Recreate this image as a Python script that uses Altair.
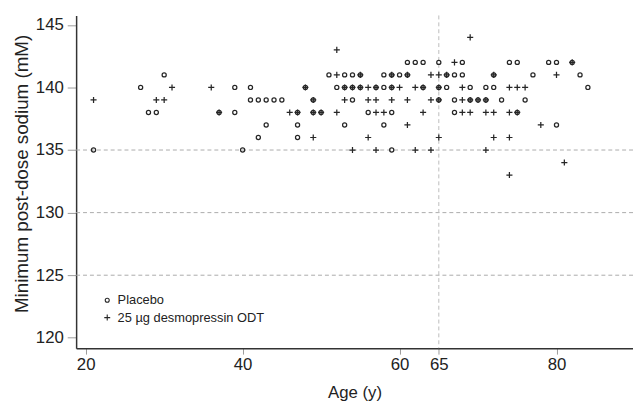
import altair as alt
import pandas as pd

# ---- data (age in years, minimum post-dose sodium in mM) ----
groups = ["Placebo", "25 µg desmopressin ODT"]

placebo_142 = [61, 62, 63, 65, 68, 74, 75, 79, 80, 82]
placebo_141 = [30, 51, 53, 54, 55, 58, 59, 60, 61, 66, 67, 68, 72, 77, 83]
placebo_140 = [27, 39, 41, 48, 52, 53, 54, 55, 57, 58, 59, 63, 65, 66, 69, 71, 72, 84]
placebo_139 = [41, 42, 43, 44, 45, 49, 54, 65, 67, 69, 70, 71, 73, 76]
placebo_138 = [28, 29, 37, 39, 47, 49, 50, 56, 59, 67, 75]
placebo_137 = [43, 47, 53, 58, 80]
placebo_136 = [42, 47]
placebo_135 = [21, 40, 59]

desmo_144 = [69]
desmo_143 = [52]
desmo_142 = [67, 82]
desmo_141 = [52, 55, 59, 61, 64, 65, 66, 72, 80]
desmo_140 = [31, 36, 48, 53, 54, 55, 56, 57, 59, 60, 62, 63, 65, 68, 74, 75, 76]
desmo_139 = [21, 29, 30, 49, 53, 56, 57, 59, 61, 64, 65, 68, 69, 70, 71]
desmo_138 = [37, 46, 47, 49, 50, 52, 57, 58, 63, 68, 69, 71, 72, 74, 75]
desmo_137 = [61, 78]
desmo_136 = [49, 56, 65, 72, 74]
desmo_135 = [54, 57, 62, 64, 71]
desmo_134 = [81]
desmo_133 = [74]

placebo_rows = [(142, placebo_142), (141, placebo_141), (140, placebo_140), (139, placebo_139),
                (138, placebo_138), (137, placebo_137), (136, placebo_136), (135, placebo_135)]
desmo_rows = [(144, desmo_144), (143, desmo_143), (142, desmo_142), (141, desmo_141),
              (140, desmo_140), (139, desmo_139), (138, desmo_138), (137, desmo_137),
              (136, desmo_136), (135, desmo_135), (134, desmo_134), (133, desmo_133)]

x_ticks = [20, 40, 60, 65, 80]
y_ticks = [120, 125, 130, 135, 140, 145]
grid_values = [125, 130, 135]
ref_age = [65]

records = []
for na, ages in placebo_rows:
    for a in ages:
        records.append({"age": a, "sodium": na, "group": groups[0]})
for na, ages in desmo_rows:
    for a in ages:
        records.append({"age": a, "sodium": na, "group": groups[1]})
df = pd.DataFrame(records)

FONT = "Liberation Sans"
INK = "#262626"
PLUS = "M-1,0H1M0,-1V1"
RING = "M0.68,0A0.68,0.68 0 1,1 -0.68,0A0.68,0.68 0 1,1 0.68,0Z"

xscale = alt.Scale(domain=[18.78, 89.75], nice=False, zero=False)
yscale = alt.Scale(domain=[119.17, 145.75], nice=False, zero=False)

grid = alt.Chart(pd.DataFrame({"sodium": grid_values})).mark_rule(
    color="#ababab", strokeWidth=1, strokeDash=[4, 3]
).encode(y=alt.Y("sodium:Q", scale=yscale))

vline = alt.Chart(pd.DataFrame({"age": ref_age})).mark_rule(
    color="#bdbdbd", strokeWidth=1, strokeDash=[4, 3]
).encode(x=alt.X("age:Q", scale=xscale))

points = alt.Chart(df).mark_point(filled=False, color=INK, strokeWidth=1.25, opacity=1, size=38).encode(
    x=alt.X("age:Q", scale=xscale,
            axis=alt.Axis(values=x_ticks, title="Age (y)", grid=False,
                          domainColor="#333333", domainWidth=1.5,
                          tickColor="#9a9a9a", tickSize=6, tickWidth=1,
                          labelFont=FONT, labelFontSize=17, labelColor="#222222",
                          labelPadding=3, labelFlush=False,
                          titleFont=FONT, titleFontSize=17, titleFontWeight="normal",
                          titleColor="#222222", titleY=45, titleBaseline="middle")),
    y=alt.Y("sodium:Q", scale=yscale,
            axis=alt.Axis(values=y_ticks, title="Minimum post-dose sodium (mM)", grid=False,
                          domainColor="#333333", domainWidth=1.5,
                          tickColor="#9a9a9a", tickSize=9, tickWidth=1,
                          labelFont=FONT, labelFontSize=17, labelColor="#222222",
                          labelPadding=4, labelFlush=False,
                          titleFont=FONT, titleFontSize=19, titleFontWeight="normal",
                          titleColor="#222222", titleX=-55, titleY=160,
                          titleBaseline="middle", titleAlign="center")),
    shape=alt.Shape("group:N", scale=alt.Scale(domain=groups, range=[RING, PLUS]),
                    legend=alt.Legend(title=None, orient="none", legendX=25, legendY=282,
                                      labelFont=FONT, labelFontSize=13, labelColor="#222222",
                                      symbolSize=36, symbolStrokeWidth=1.1,
                                      symbolStrokeColor=INK, symbolFillColor="transparent",
                                      labelOffset=4, rowPadding=3.5, padding=0)),
)

chart = alt.layer(grid, vline, points).properties(
    width=564, height=337,
    autosize=alt.AutoSizeParams(type="none"),
    padding={"left": 69, "top": 5, "right": 0, "bottom": 56},
    background="white",
).configure_view(stroke=None)

chart.save("out.html", embed_options={"renderer": "svg", "actions": False})
